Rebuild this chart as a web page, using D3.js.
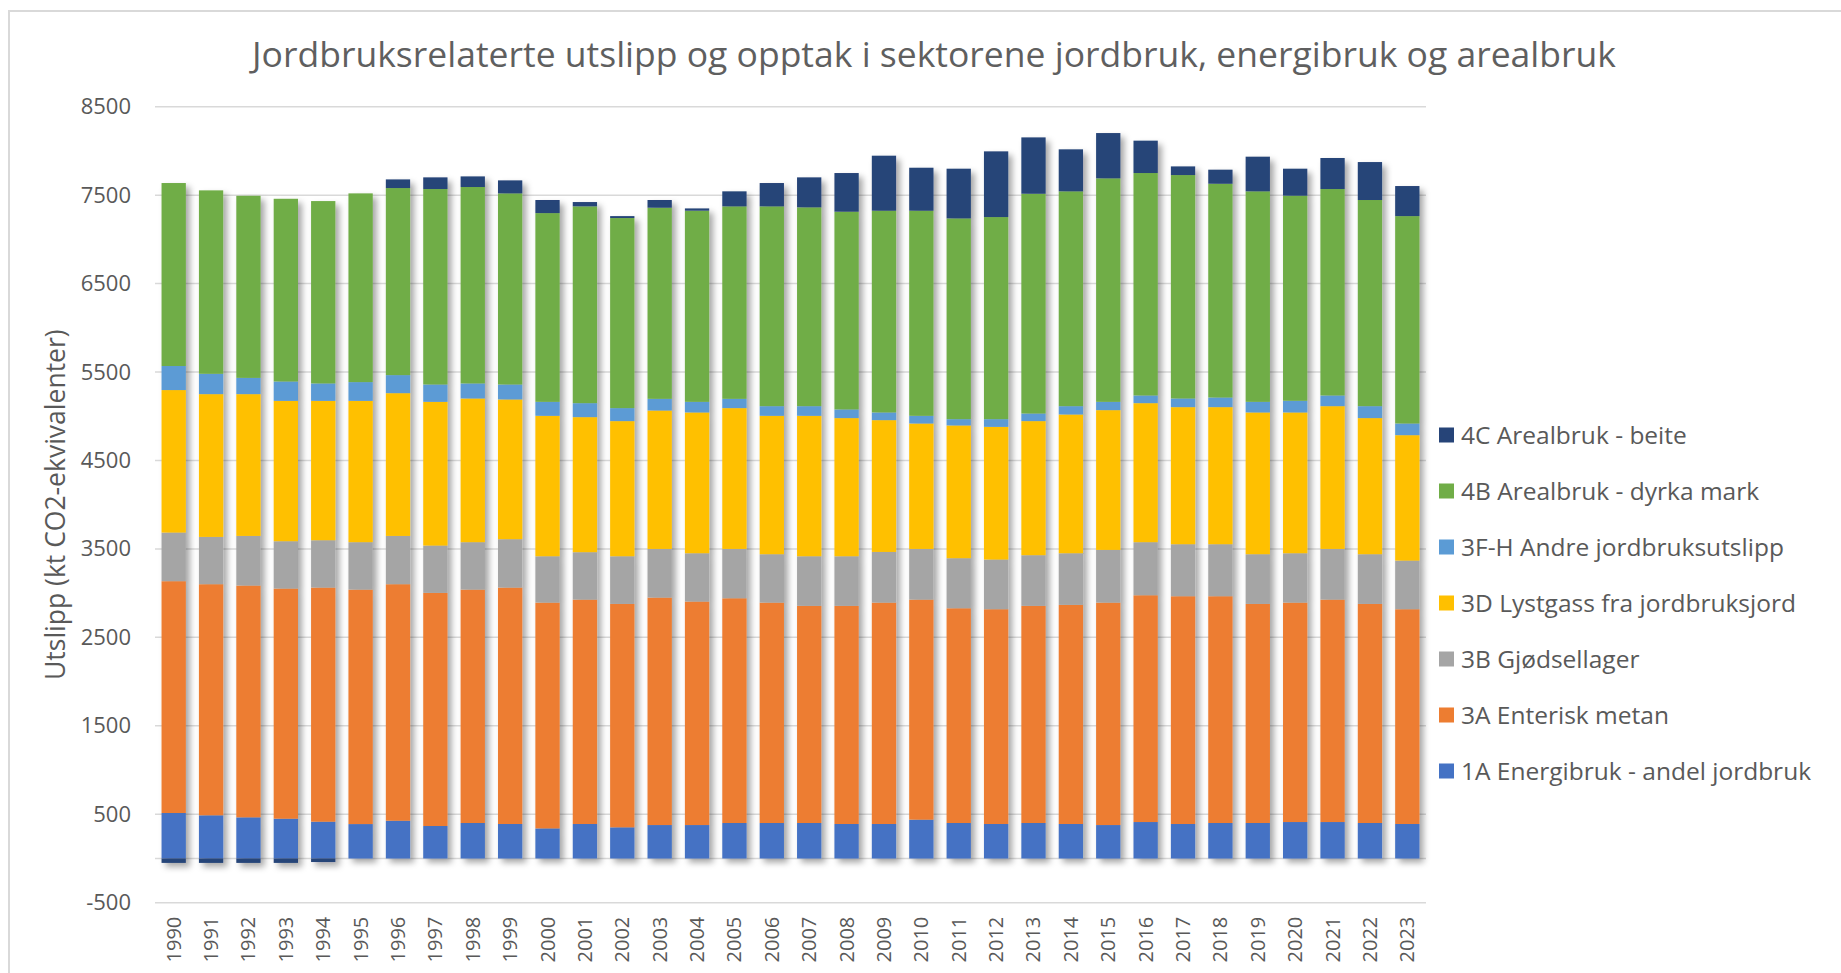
<!DOCTYPE html>
<html>
<head>
<meta charset="utf-8">
<script src="https://cdn.jsdelivr.net/npm/d3@7"></script>
<style>
  body { margin: 0; background: #fff; }
  text { font-family: "Open Sans", sans-serif; fill: #595959; }
</style>
</head>
<body>
<div id="chart"></div>
<script>
const years = ['1990','1991','1992','1993','1994','1995','1996','1997','1998','1999',
  '2000','2001','2002','2003','2004','2005','2006','2007','2008','2009',
  '2010','2011','2012','2013','2014','2015','2016','2017','2018','2019',
  '2020','2021','2022','2023']

// kt CO2-ekv
const energibruk = [514,488,465,450,416,389,427,367,401,390,340,390,352,378,378,401,401,401,390,390,
  439,401,390,401,390,378,412,390,401,401,412,412,401,390]
const enteriskMetan = [2621,2613,2621,2602,2647,2651,2674,2636,2639,2673,2553,2537,2526,2572,2527,2541,2492,2455,2466,2503,
  2488,2428,2428,2455,2477,2515,2564,2575,2564,2477,2481,2515,2477,2428]
const gjodsellager = [550,535,561,535,535,536,546,535,536,547,524,536,539,550,546,558,547,561,561,573,
  573,566,562,573,584,596,600,588,588,562,558,573,562,550]
const lystgass = [1611,1614,1603,1587,1576,1598,1614,1625,1625,1580,1588,1527,1528,1565,1592,1592,1565,1588,1562,1490,
  1418,1501,1500,1516,1569,1580,1572,1550,1550,1603,1592,1614,1539,1418]
const andre = [272,230,184,219,197,212,204,196,170,169,158,158,147,132,120,105,109,109,98,87,
  87,71,87,86,94,94,87,98,109,120,132,121,135,132]
const dyrkaMark = [2069,2074,2059,2066,2062,2134,2115,2210,2221,2161,2134,2225,2149,2161,2161,2176,2259,2248,2236,2281,
  2319,2270,2285,2485,2429,2527,2515,2526,2417,2380,2319,2334,2331,2345]
const beite = [-50,-50,-50,-50,-40,0,98,132,120,147,148,49,22,87,26,170,264,339,437,622,
  486,562,743,637,475,512,366,98,159,392,305,351,429,340]

const seriesNames = ['1A Energibruk - andel jordbruk', '3A Enterisk metan', '3B Gjødsellager',
  '3D Lystgass fra jordbruksjord', '3F-H Andre jordbruksutslipp', '4B Arealbruk - dyrka mark', '4C Arealbruk - beite']
const seriesColors = ['#4472C4', '#ED7D31', '#A5A5A5', '#FFC000', '#5B9BD5', '#70AD47', '#264478']
const seriesValues = [energibruk, enteriskMetan, gjodsellager, lystgass, andre, dyrkaMark, beite]

const yTicks = [-500, 500, 1500, 2500, 3500, 4500, 5500, 6500, 7500, 8500]

const title = 'Jordbruksrelaterte utslipp og opptak i sektorene jordbruk, energibruk og arealbruk'
const yTitle = 'Utslipp (kt CO2-ekvivalenter)'

function draw() {
    const dimensions = {
        width: 1841,
        height: 973,
        margin: { top: 106.7, bottom: 70.3, left: 155, right: 415 }
    }
    const innerWidth = dimensions.width - dimensions.margin.left - dimensions.margin.right
    const innerHeight = dimensions.height - dimensions.margin.top - dimensions.margin.bottom

    const dataset = years.map((year, i) => {
        const row = { year }
        seriesNames.forEach((name, k) => { row[name] = seriesValues[k][i] })
        return row
    })

    const stacked = d3.stack()
        .keys(seriesNames)
        .offset(d3.stackOffsetDiverging)(dataset)

    const svg = d3.select('#chart')
        .append('svg')
        .attr('width', dimensions.width)
        .attr('height', dimensions.height)

    const defs = svg.append('defs')
    const shadow = defs.append('filter')
        .attr('id', 'shadow')
        .attr('x', '-20%').attr('y', '-20%')
        .attr('width', '160%').attr('height', '140%')
    shadow.append('feDropShadow')
        .attr('dx', 4).attr('dy', 4)
        .attr('stdDeviation', 3)
        .attr('flood-color', '#000')
        .attr('flood-opacity', 0.35)

    // chart frame
    svg.append('rect')
        .attr('x', 9).attr('y', 11)
        .attr('width', dimensions.width + 20)
        .attr('height', dimensions.height + 20)
        .attr('fill', 'none')
        .attr('stroke', '#d9d9d9')
        .attr('stroke-width', 2)

    svg.append('text')
        .attr('x', 934)
        .attr('y', 67)
        .attr('text-anchor', 'middle')
        .style('font-size', '35.5px')
        .style('fill', '#5f5f5f')
        .text(title)

    const container = svg.append('g')
        .attr('transform', `translate(${dimensions.margin.left}, ${dimensions.margin.top})`)

    const xScale = d3.scaleBand()
        .domain(years)
        .range([0, innerWidth])
        .paddingInner(0.35)
        .paddingOuter(0.175)

    const yScale = d3.scaleLinear()
        .domain([-500, 8500])
        .range([innerHeight, 0])

    // gridlines
    container.append('g')
        .selectAll('line')
        .data(yTicks)
        .join('line')
        .attr('x1', 0)
        .attr('x2', innerWidth)
        .attr('y1', d => yScale(d))
        .attr('y2', d => yScale(d))
        .attr('stroke', '#d9d9d9')
        .attr('stroke-width', 1.5)

    // zero line
    container.append('line')
        .attr('x1', 0)
        .attr('x2', innerWidth)
        .attr('y1', yScale(0))
        .attr('y2', yScale(0))
        .attr('stroke', '#d9d9d9')
        .attr('stroke-width', 1.5)

    const bars = container.append('g')
        .attr('filter', 'url(#shadow)')

    bars.selectAll('g')
        .data(stacked)
        .join('g')
        .attr('fill', (d, i) => seriesColors[i])
        .selectAll('rect')
        .data(d => d)
        .join('rect')
        .attr('x', d => xScale(d.data.year))
        .attr('width', xScale.bandwidth())
        .attr('y', d => yScale(Math.max(d[0], d[1])))
        .attr('height', d => Math.abs(yScale(d[0]) - yScale(d[1])))

    const yAxis = d3.axisLeft(yScale)
        .tickValues(yTicks)
        .tickFormat(d => String(d))
        .tickSize(0)
        .tickPadding(24)
    const yAxisGroup = container.append('g').call(yAxis)
    yAxisGroup.select('.domain').remove()
    yAxisGroup.selectAll('text')
        .style('font-size', '22px')
        .style('fill', '#595959')
        .attr('font-family', null)

    const xAxis = d3.axisBottom(xScale).tickSize(0)
    const xAxisGroup = container.append('g')
        .attr('transform', `translate(0, ${innerHeight})`)
        .call(xAxis)
    xAxisGroup.select('.domain').remove()
    xAxisGroup.selectAll('text')
        .attr('transform', 'rotate(-90)')
        .attr('x', -14)
        .attr('y', 0)
        .attr('dy', '0.35em')
        .attr('text-anchor', 'end')
        .style('font-size', '20px')
        .style('fill', '#595959')

    svg.append('text')
        .attr('transform', `translate(56, ${dimensions.margin.top + innerHeight / 2}) rotate(-90)`)
        .attr('text-anchor', 'middle')
        .attr('dy', '0.35em')
        .style('font-size', '26.5px')
        .text(yTitle)

    // legend, top entry is the last series
    const legendOrder = seriesNames.map((name, i) => ({ name, color: seriesColors[i] })).reverse()
    const legend = svg.append('g')
        .attr('transform', 'translate(1439, 435)')
    const items = legend.selectAll('g')
        .data(legendOrder)
        .join('g')
        .attr('transform', (d, i) => `translate(0, ${i * 56})`)
    items.append('rect')
        .attr('x', 0)
        .attr('y', -7.5)
        .attr('width', 15)
        .attr('height', 15)
        .attr('fill', d => d.color)
    items.append('text')
        .attr('x', 22)
        .attr('dy', '0.35em')
        .style('font-size', '24.5px')
        .text(d => d.name)
}

draw()
</script>
</body>
</html>
